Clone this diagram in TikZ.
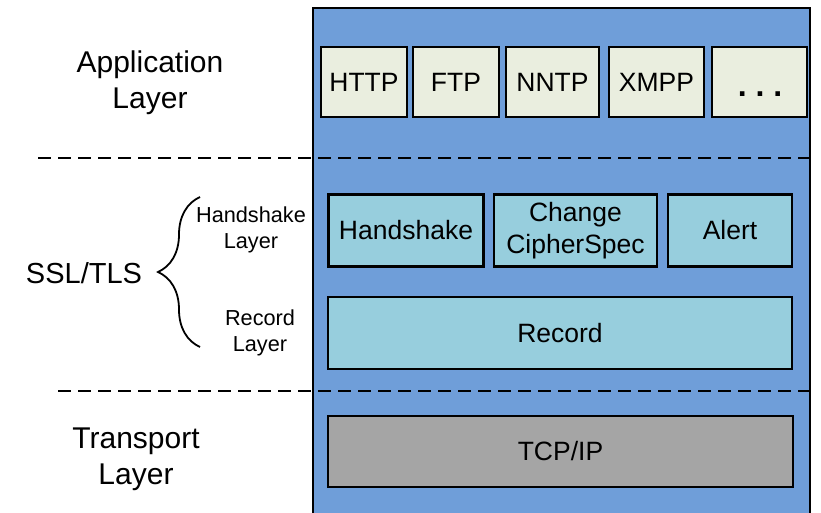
\documentclass[tikz,border=0pt]{standalone}
\usepackage{fontspec}
\setmainfont{Liberation Sans}
\usetikzlibrary{decorations.pathreplacing}
\definecolor{stackblue}{RGB}{111,158,217}
\definecolor{appfill}{RGB}{234,238,223}
\definecolor{sslfill}{RGB}{151,206,221}
\definecolor{tcpfill}{RGB}{165,165,165}
\newcommand{\fs}[2]{\fontsize{#1}{#2}\selectfont}
\tikzset{
  protobox/.style={draw=black, line width=2.4pt, inner sep=0pt, font=\fs{26.5}{32}, align=center},
  appbox/.style={protobox, fill=appfill, minimum height=70pt},
  sslbox/.style={protobox, fill=sslfill, minimum height=72pt},
  tcpbox/.style={protobox, fill=tcpfill, minimum height=71pt},
  sidelabel/.style={font=\fs{30}{36}, align=center, inner sep=0pt},
  sublabel/.style={font=\fs{21.7}{25.5}, align=center, inner sep=0pt},
  layersep/.style={dashed, dash pattern=on 13pt off 7pt, line width=1.8pt},
}
\begin{document}
\begin{tikzpicture}[x=1pt, y=-1pt]
\useasboundingbox (0,0) rectangle (821,513);

% protocol stack frame, open at the bottom
\fill[stackblue] (313,8) rectangle (810,513);
\draw[line width=2pt] (313,513) -- (313,8) -- (810,8) -- (810,513);

% application protocols
\node[appbox, minimum width=86pt] (http) at (364,82) {HTTP};
\node[appbox, minimum width=86pt] (ftp)  at (456,82) {FTP};
\node[appbox, minimum width=93pt] (nntp) at (552.5,82) {NNTP};
\node[appbox, minimum width=95pt] (xmpp) at (656.5,82) {XMPP};
\node[appbox, minimum width=95pt] (more) at (759.5,82) {};
\node[font=\bfseries\fs{32}{32}, inner sep=0pt, anchor=base] (dots) at (760,96.5) {.\ .\ .};

% SSL/TLS protocols
\node[sslbox, minimum width=155pt] (hs)  at (406,230.5) {Handshake};
\node[sslbox, minimum width=163pt] (ccs) at (575.5,230.5) {Change\\CipherSpec};
\node[sslbox, minimum width=124pt] (alert) at (730,230.5) {Alert};
\node[sslbox, minimum width=464pt] (rec) at (560,333) {Record};

% transport
\node[tcpbox, minimum width=465pt] (tcp) at (560.5,451.5) {TCP/IP};

% layer separators
\coordinate (sep1a) at (38,158);
\coordinate (sep1b) at (811,158);
\coordinate (sep2a) at (58,391);
\coordinate (sep2b) at (811,391);
\draw[layersep] (sep1a) -- (sep1b);
\draw[layersep] (sep2a) -- (sep2b);

% layer names
\node[sidelabel] (applbl) at (150,83) {Application\\Layer};
\node[sidelabel] (trlbl) at (136,459.5) {Transport\\Layer};
\node[font=\fs{29}{34}, inner sep=0pt, anchor=base] (ssl) at (84,283) {SSL/TLS};
\node[sublabel] (hslbl) at (251,230) {Handshake\\Layer};
\node[sublabel] (reclbl) at (260,333) {Record\\Layer};

% brace grouping the two sublayers
\coordinate (brtop) at (200,197);
\coordinate (brbot) at (200,347);
\draw[line width=1.8pt, decorate, decoration={brace, amplitude=42pt}] (brbot) -- (brtop);
\end{tikzpicture}
\end{document}
